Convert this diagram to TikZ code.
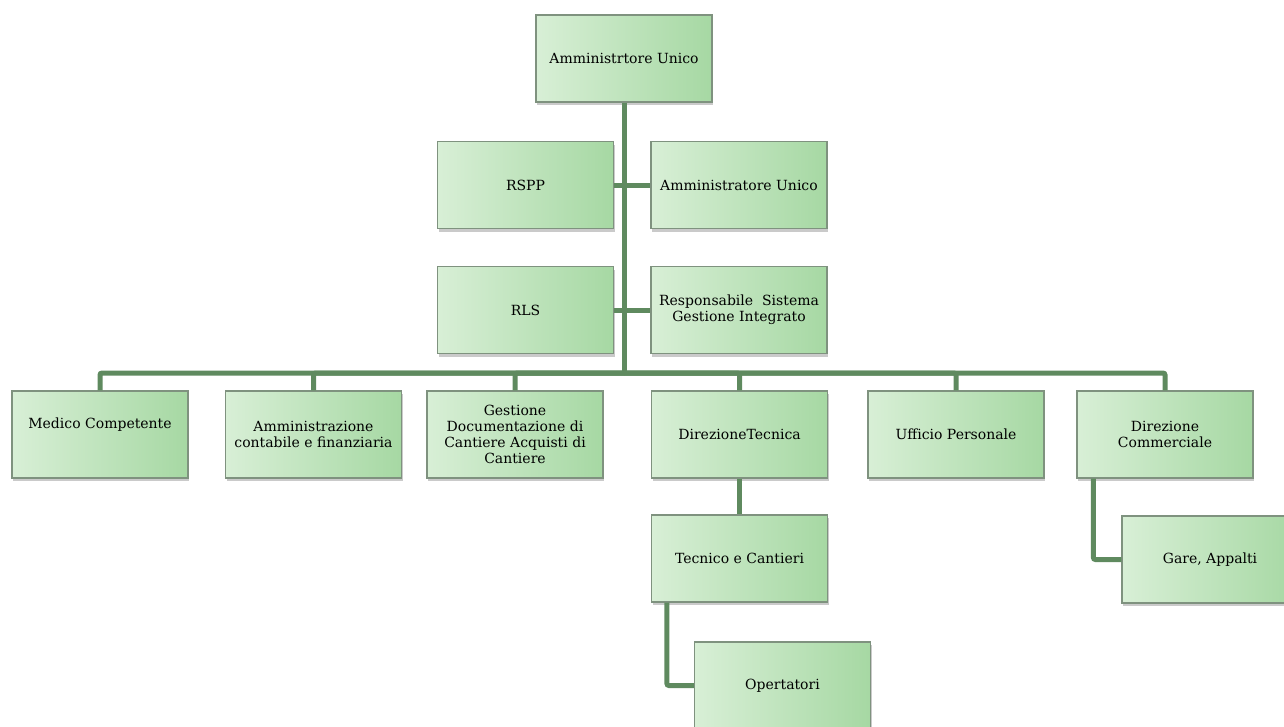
\documentclass[tikz,border=0pt]{standalone}
\usepackage{fontspec}
\setmainfont{DejaVu Serif}
\usetikzlibrary{shadows}
\definecolor{boxL}{HTML}{D8EFD6}
\definecolor{boxR}{HTML}{A6D8A3}
\definecolor{boxB}{HTML}{7F927F}
\definecolor{lineG}{HTML}{5F8A5F}
\tikzset{
  orgbox/.style={draw=boxB, line width=1.2pt, left color=boxL, right color=boxR,
    minimum width=176pt, minimum height=87pt, align=center,
    inner sep=2pt, font=\fontsize{14}{15.8}\selectfont,
    drop shadow={shadow xshift=1pt, shadow yshift=-3pt, opacity=0.35, fill=black!60}},
  link/.style={draw=lineG, line width=5pt}
}
\begin{document}
\begin{tikzpicture}[x=1pt,y=-1pt]
\useasboundingbox (0,0) rectangle (1284,726);
% nodes
\node[orgbox] (top) at (624,58.5) {Amministrtore Unico};
\node[orgbox] (rspp) at (525.5,185) {RSPP};
\node[orgbox] (amu) at (739,185) {Amministratore Unico};
\node[orgbox] (rls) at (525.5,310) {RLS};
\node[orgbox] (rsgi) at (739,310) {Responsabile\ \ Sistema\\Gestione Integrato};
\node[orgbox] (med) at (100,434.5) {Medico Competente\\[6pt]\mbox{}};
\node[orgbox] (amm) at (313.5,434.5) {Amministrazione\\contabile e finanziaria};
\node[orgbox] (ges) at (515,434.5) {Gestione\\Documentazione di\\Cantiere Acquisti di\\Cantiere};
\node[orgbox] (dt) at (739.5,434.5) {DirezioneTecnica};
\node[orgbox] (uff) at (956,434.5) {Ufficio Personale};
\node[orgbox] (dc) at (1165,434.5) {Direzione\\Commerciale};
\node[orgbox] (tc) at (739.5,558.5) {Tecnico e Cantieri};
\node[orgbox] (op) at (782.5,685.5) {Opertatori};
\node[orgbox] (ga) at (1210,559.5) {Gare, Appalti};
\coordinate (hub) at (624,373);
% connectors
\draw[link] (top.south) -- (hub);
\draw[link] (rspp.east) -- (amu.west);
\draw[link] (rls.east) -- (rsgi.west);
\draw[link, rounded corners=2pt] (med.north) |- (hub);
\draw[link, rounded corners=2pt] (amm.north) |- (hub);
\draw[link, rounded corners=2pt] (ges.north) |- (hub);
\draw[link, rounded corners=2pt] (dt.north) |- (hub);
\draw[link, rounded corners=2pt] (uff.north) |- (hub);
\draw[link, rounded corners=2pt] (dc.north) |- (hub);
\draw[link] (dt.south) -- (tc.north);
\draw[link, rounded corners=2pt] ([xshift=16pt]tc.south west) |- (op.west);
\draw[link, rounded corners=2pt] ([xshift=17pt]dc.south west) |- (ga.west);
\end{tikzpicture}
\end{document}
